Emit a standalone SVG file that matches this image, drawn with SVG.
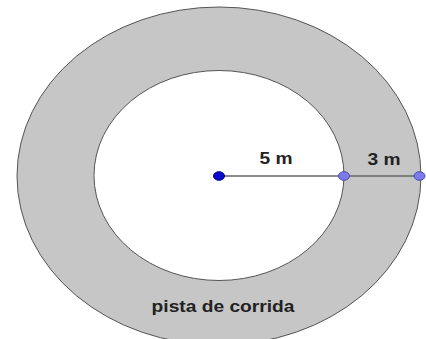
<svg xmlns="http://www.w3.org/2000/svg" width="426" height="339" viewBox="0 0 426 339">
  <style>
    .ring { stroke: #555; stroke-width: 1; }
    .lbl { font-family: "Liberation Sans", Arial, sans-serif; font-weight: bold; font-size: 16px; fill: #222; text-anchor: middle; }
    .pt { fill: #7b7bea; stroke: #4a4ab0; stroke-width: 1; }
    .ctr { fill: #0a0ad0; stroke: #000080; stroke-width: 1; }
  </style>
  <rect width="426" height="339" fill="#fff"/>
  <g id="track">
    <ellipse class="ring" cx="219" cy="176" rx="202" ry="169" fill="#c6c6c6"/>
    <ellipse class="ring" cx="219" cy="175.5" rx="125" ry="105" fill="#fff"/>
  </g>
  <g id="connectors">
    <line x1="219" y1="176" x2="420" y2="176" stroke="#666" stroke-width="1.3"/>
  </g>
  <g id="center">
    <ellipse class="ctr" cx="219" cy="176" rx="5.5" ry="4.3"/>
  </g>
  <g id="inner-point">
    <ellipse class="pt" cx="344" cy="176" rx="5.5" ry="4.3"/>
  </g>
  <g id="outer-point">
    <ellipse class="pt" cx="419.5" cy="176" rx="5.5" ry="4.3"/>
  </g>
  <g id="labels">
    <text class="lbl" transform="translate(276,164) scale(1.2,1)">5 m</text>
    <text class="lbl" transform="translate(384,165) scale(1.2,1)">3 m</text>
    <text class="lbl" transform="translate(223,312) scale(1.2,1)">pista de corrida</text>
  </g>
</svg>
